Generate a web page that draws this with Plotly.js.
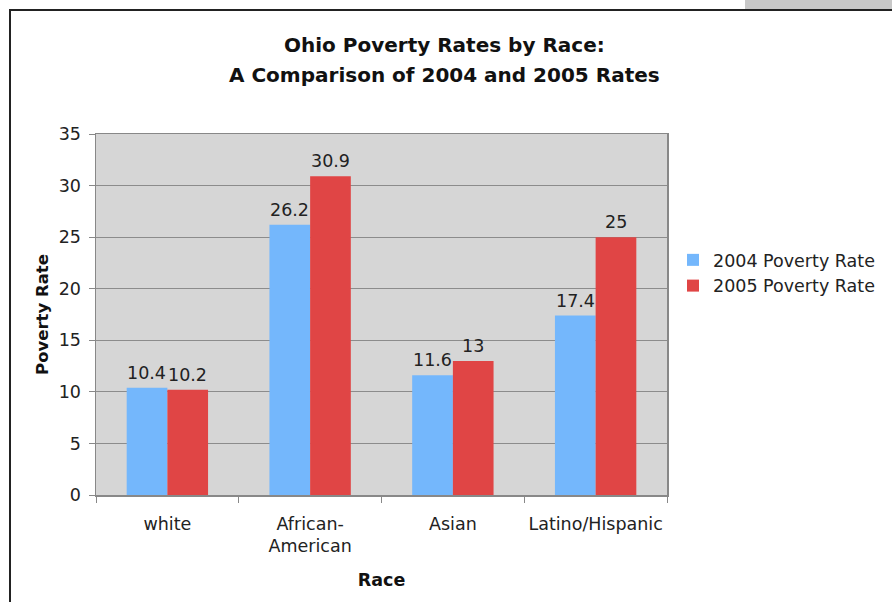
<!DOCTYPE html>
<html>
<head>
<meta charset="utf-8">
<script src="https://cdn.plot.ly/plotly-3.0.1.min.js"></script>
<style>
  html, body { margin: 0; padding: 0; background: #ffffff; width: 892px; height: 602px; overflow: hidden; }
  #strip { position: absolute; left: 745px; top: 0; width: 147px; height: 9px; background: #c8c8c8; }
  #chart { position: absolute; left: 9px; top: 9px; width: 881px; height: 591px;
           border-top: 2px solid #222; border-left: 2px solid #222; }
</style>
</head>
<body>
<div id="strip"></div>
<div id="chart"></div>
<script>
const categories = ["white", "African-<br>American", "Asian", "Latino/Hispanic"];
const rates2004 = [10.4, 26.2, 11.6, 17.4];
const rates2005 = [10.2, 30.9, 13, 25];
const seriesNames = ["2004 Poverty Rate", "2005 Poverty Rate"];
const yTicks = [0, 5, 10, 15, 20, 25, 30, 35];
const titleLines = ["Ohio Poverty Rates by Race:", "A Comparison of 2004 and 2005 Rates"];

const font = "DejaVu Sans, Verdana, sans-serif";

const traces = [
  { type: "bar", name: seriesNames[0], x: categories, y: rates2004, marker: { color: "#74b7fc" } },
  { type: "bar", name: seriesNames[1], x: categories, y: rates2005, marker: { color: "#e04545" } }
];

// value labels above bars, offset to each bar of the group
const annotations = [];
[rates2004, rates2005].forEach((vals, s) => {
  vals.forEach((v, i) => {
    annotations.push({
      x: categories[i], y: v, xref: "x", yref: "y",
      text: String(v), showarrow: false,
      xshift: s === 0 ? -20.5 : 20.5, yshift: 3,
      yanchor: "bottom", xanchor: "center",
      font: { family: font, size: 17.5, color: "#222" }
    });
  });
});
// title lines
titleLines.forEach((t, i) => {
  annotations.push({
    text: "<b>" + t + "</b>", showarrow: false,
    xref: "paper", yref: "paper", x: 0.611, y: i === 0 ? 1.2465 : 1.1634,
    xanchor: "center", yanchor: "middle",
    font: { family: font, size: 20, color: "#111" }
  });
});

const layout = {
  width: 881, height: 591,
  margin: { l: 85, r: 225, t: 123, b: 107 },
  paper_bgcolor: "#ffffff",
  plot_bgcolor: "#d6d6d6",
  barmode: "group",
  bargap: 0.43,
  bargroupgap: 0,
  font: { family: font, size: 16, color: "#222" },
  annotations: annotations,
  xaxis: {
    type: "category",
    tickson: "boundaries",
    tickangle: 0,
    ticks: "outside", ticklen: 6, tickcolor: "#888",
    ticklabelstandoff: 12,
    showline: true, linecolor: "#888", linewidth: 1.5, mirror: true,
    tickfont: { family: font, size: 17.5, color: "#222" },
    title: { text: "<b>Race</b>", font: { family: font, size: 17.5, color: "#111" }, standoff: 18 }
  },
  yaxis: {
    range: [0, 35],
    tickvals: yTicks,
    ticks: "outside", ticklen: 6, tickcolor: "#888",
    ticklabelstandoff: 4,
    showgrid: true, gridcolor: "#8c8c8c", gridwidth: 1,
    zeroline: false,
    showline: true, linecolor: "#888", linewidth: 1.5, mirror: true,
    tickfont: { family: font, size: 17.5, color: "#222" },
    title: { text: "<b>Poverty Rate</b>", font: { family: font, size: 16.5, color: "#111" }, standoff: 6 }
  },
  legend: {
    x: 1.0105, xanchor: "left", y: 0.615, yanchor: "middle",
    font: { family: font, size: 17.5, color: "#222" },
    bgcolor: "rgba(0,0,0,0)", itemwidth: 30, tracegroupgap: 0
  },
  showlegend: true
};

Plotly.newPlot("chart", traces, layout, { displayModeBar: false, staticPlot: true });
</script>
</body>
</html>
